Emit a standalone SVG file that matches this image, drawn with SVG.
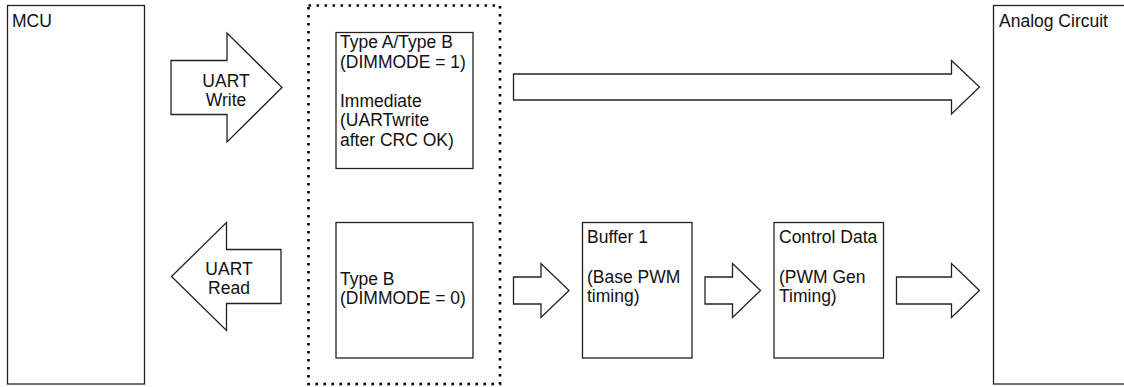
<svg xmlns="http://www.w3.org/2000/svg" width="1124" height="387" viewBox="0 0 1124 387">
<style>
.box{fill:#fff;stroke:#222;stroke-width:1.3}
.arr{fill:#fff;stroke:#222;stroke-width:1.3;stroke-linejoin:miter}
.dot{fill:none;stroke:#000;stroke-width:2.6;stroke-dasharray:2.6 5.4}
text{font-family:"Liberation Sans",Arial,sans-serif;font-size:17.5px;fill:#111}
.c{text-anchor:middle}
</style>
<rect width="1124" height="387" fill="#fff"/>
<g id="mcu"><rect class="box" x="7.5" y="5.5" width="137" height="378.5"/><text x="12" y="26.5">MCU</text></g>
<g id="analog"><rect class="box" x="993.5" y="5.5" width="140" height="378.5"/><text x="999" y="26.5">Analog Circuit</text></g>
<g id="group"><rect class="dot" x="308.5" y="5.5" width="191.5" height="378.5"/></g>
<g id="typeA"><rect class="box" x="336" y="32.5" width="137" height="136"/>
<text><tspan x="340" y="48">Type A/Type B</tspan><tspan x="340" y="67.5">(DIMMODE = 1)</tspan><tspan x="340" y="106.5">Immediate</tspan><tspan x="340" y="126">(UARTwrite</tspan><tspan x="340" y="145.5">after CRC OK)</tspan></text></g>
<g id="typeB"><rect class="box" x="336" y="222.5" width="137" height="135.5"/>
<text><tspan x="340" y="284.5">Type B</tspan><tspan x="340" y="304">(DIMMODE = 0)</tspan></text></g>
<g id="buffer1"><rect class="box" x="582.5" y="222.5" width="109.5" height="135.5"/>
<text><tspan x="587" y="243">Buffer 1</tspan><tspan x="587" y="283">(Base PWM</tspan><tspan x="587" y="302">timing)</tspan></text></g>
<g id="control"><rect class="box" x="774" y="222.5" width="109.5" height="135.5"/>
<text><tspan x="779" y="243">Control Data</tspan><tspan x="779" y="283">(PWM Gen</tspan><tspan x="779" y="302">Timing)</tspan></text></g>
<g id="connectors">
<g id="uartWrite"><polygon class="arr" points="171,60.5 227,60.5 227,33 282,87.5 227,142 227,114.5 171,114.5"/>
<text class="c"><tspan x="226" y="87">UART</tspan><tspan x="226" y="106">Write</tspan></text></g>
<g id="uartRead"><polygon class="arr" points="171.5,276.5 226.5,222.5 226.5,249.5 281,249.5 281,303.5 226.5,303.5 226.5,330.5"/>
<text class="c"><tspan x="229" y="274.5">UART</tspan><tspan x="229" y="293.5">Read</tspan></text></g>
<polygon class="arr" points="513.5,74 951.5,74 951.5,60.5 979.5,87 951.5,114 951.5,100 513.5,100"/>
<polygon class="arr" points="513.5,277 541,277 541,263.5 569,290.5 541,317.5 541,304 513.5,304"/>
<polygon class="arr" points="705,277 732.5,277 732.5,263.5 760.5,290.5 732.5,317.5 732.5,304 705,304"/>
<polygon class="arr" points="896.5,277 951.5,277 951.5,263.5 979.5,290.5 951.5,317.5 951.5,304 896.5,304"/>
</g>
</svg>
